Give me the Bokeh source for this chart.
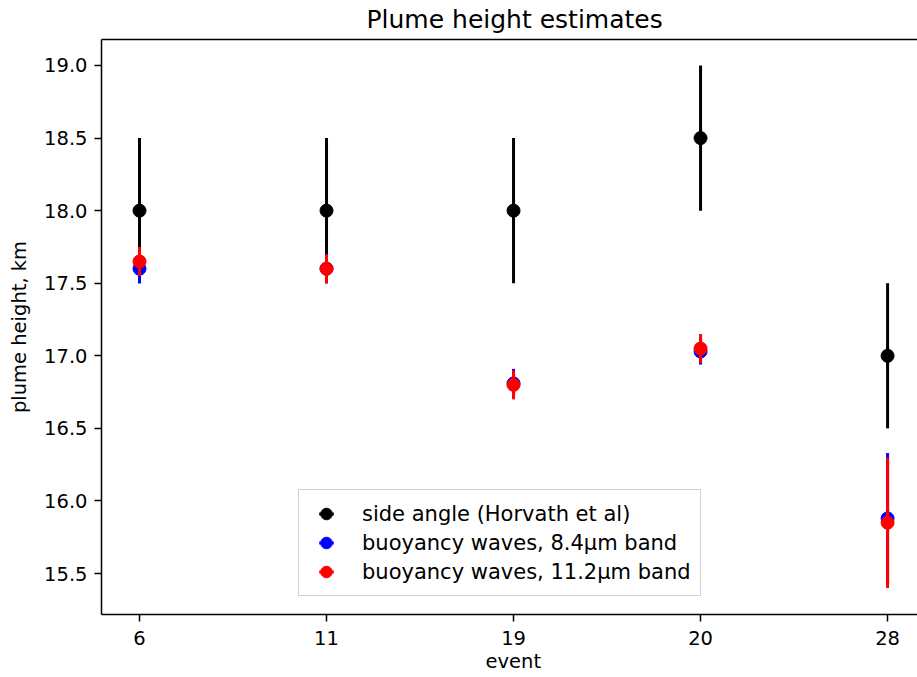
from math import pi

from bokeh.plotting import figure
from bokeh.models import (ColumnDataSource, FixedTicker, NumeralTickFormatter,
                          Range1d, Legend, LegendItem, LinearAxis, Title)
from bokeh.embed import file_html
from bokeh.resources import INLINE

# ---------------- data ----------------
events = ["6", "11", "19", "20", "28"]

side_angle = [18.0, 18.0, 18.0, 18.5, 17.0]
side_angle_err = [0.5, 0.5, 0.5, 0.5, 0.5]

band84 = [17.60, 17.60, 16.81, 17.03, 15.88]
band84_err = [0.10, 0.10, 0.10, 0.09, 0.45]

band112 = [17.65, 17.60, 16.80, 17.05, 15.85]
band112_err = [0.10, 0.10, 0.10, 0.10, 0.45]

series_labels = ["side angle (Horvath et al)",
                 "buoyancy waves, 8.4\u00b5m band",
                 "buoyancy waves, 11.2\u00b5m band"]
series_colors = ["#000000", "#0000ff", "#ff0000"]

y_ticks = [15.5, 16.0, 16.5, 17.0, 17.5, 18.0, 18.5, 19.0]

title_text = "Plume height estimates"
x_label = "event"
y_label = "plume height, km"

FONT = "DejaVu Sans"

# ---------------- figure ----------------
p = figure(width=917, height=677, output_backend="svg", toolbar_location=None,
           x_range=Range1d(-0.2032, 4.160), y_range=Range1d(15.218, 19.179),
           min_border_left=101, min_border_right=0, min_border_top=38,
           min_border_bottom=63, title=title_text, y_axis_label=y_label)

p.title.align = "left"
p.title.offset = 265
p.title.vertical_align = "top"
p.title.text_font = FONT
p.title.text_font_size = "25px"
p.title.text_font_style = "normal"
p.title.text_color = "#000000"
p.title.standoff = 8

p.xgrid.visible = False
p.ygrid.visible = False
p.outline_line_color = None
p.background_fill_color = "#ffffff"
p.border_fill_color = "#ffffff"

for ax in (p.xaxis[0], p.yaxis[0]):
    ax.axis_line_width = 1.5
    ax.axis_line_color = "#000000"
    ax.major_tick_line_width = 1.5
    ax.major_tick_line_color = "#000000"
    ax.major_tick_out = 7
    ax.major_tick_in = 0
    ax.minor_tick_line_color = None
    ax.major_label_text_font = FONT
    ax.major_label_text_font_size = "19.5px"
    ax.major_label_text_color = "#000000"
    ax.axis_label_text_font = FONT
    ax.axis_label_text_font_size = "19.5px"
    ax.axis_label_text_font_style = "normal"
    ax.axis_label_text_color = "#000000"

xpos = list(range(len(events)))
p.xaxis[0].ticker = FixedTicker(ticks=xpos)
p.xaxis[0].major_label_overrides = {i: e for i, e in zip(xpos, events)}
p.xaxis[0].major_label_standoff = 9

p.yaxis[0].ticker = FixedTicker(ticks=y_ticks)
p.yaxis[0].formatter = NumeralTickFormatter(format="0.0")
p.yaxis[0].major_label_standoff = 7
p.yaxis[0].axis_label_standoff = 10

# x-axis label as a bottom title
xlab = Title(text=x_label, align="left", offset=384, vertical_align="bottom",
             standoff=0, text_font=FONT, text_font_size="19.5px",
             text_font_style="normal", text_color="#000000")
p.add_layout(xlab, "below")

# top spine (the right spine lies outside the picture in the reference)
top = LinearAxis(ticker=FixedTicker(ticks=[]), axis_line_width=1.5,
                 axis_line_color="#000000", major_tick_out=0, major_tick_in=0,
                 minor_tick_line_color=None, major_label_standoff=0,
                 major_label_text_font_size="0px")
p.add_layout(top, "above")

# ---------------- error bar series ----------------
all_vals = [side_angle, band84, band112]
all_errs = [side_angle_err, band84_err, band112_err]

items = []
for vals, errs, color, label in zip(all_vals, all_errs, series_colors, series_labels):
    src = ColumnDataSource(dict(
        x=xpos, y=vals,
        lo=[v - e for v, e in zip(vals, errs)],
        hi=[v + e for v, e in zip(vals, errs)],
    ))
    # vertical dash used as the legend's errorbar stroke (hidden under the bars)
    dash = p.scatter("x", "y", source=src, marker="dash", angle=pi / 2, size=16,
                     line_color=color, line_width=3, line_cap="square")
    p.segment(x0="x", y0="lo", x1="x", y1="hi", source=src,
              line_color=color, line_width=3)
    dot = p.scatter("x", "y", source=src, marker="circle", size=13,
                    fill_color=color, line_color=color, line_width=1)
    items.append(LegendItem(label=label, renderers=[dash, dot]))

legend = Legend(items=items, location=(197, 18), orientation="vertical",
                label_text_font=FONT, label_text_font_size="21px",
                label_text_color="#000000", label_height=21,
                glyph_height=29, glyph_width=36, spacing=0,
                padding=9, margin=0, label_standoff=18,
                background_fill_color="#ffffff", background_fill_alpha=0.8,
                border_line_color="#cccccc", border_line_width=1.5,
                border_line_alpha=0.9)
p.add_layout(legend, "center")

open("out.html", "w").write(file_html(p, INLINE))
